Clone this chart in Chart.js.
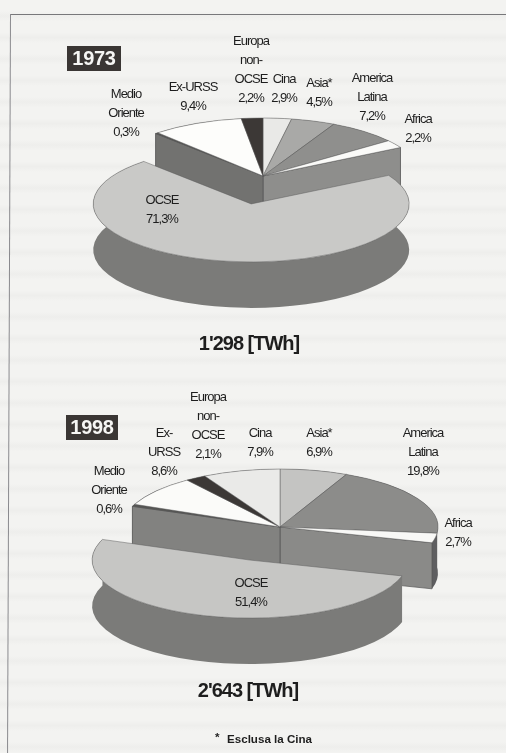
<!DOCTYPE html>
<html>
<head>
<meta charset="utf-8">
<title>Produzione elettrica 1973 / 1998</title>
<script src="https://cdn.jsdelivr.net/npm/chart.js@4/dist/chart.umd.min.js"></script>
<style>
  html, body { margin: 0; padding: 0; width: 506px; height: 753px; overflow: hidden; background: #f2f2f0; }
  /* fondo di pagina scansionata: righe appena visibili */
  body { background-image: repeating-linear-gradient(180deg, #f3f3f1 0, #f3f3f1 11px, #eeeeec 16px, #f3f3f1 21.5px); }
  canvas { position: absolute; left: 0; top: 0; }
  #frameTop { position: absolute; left: 10px; top: 14px; width: 496px; height: 1px; background: #77777a; }
  #frameLeft { position: absolute; left: 10px; top: 14px; width: 1px; height: 739px; background: #8a8a8e; transform-origin: top left; transform: rotate(0.23deg); }
</style>
</head>
<body>
<div id="frameTop"></div>
<div id="frameLeft"></div>
<canvas id="pie1973" width="506" height="753"></canvas>
<canvas id="pie1998" width="506" height="753"></canvas>
<script>
// valori (%)
const cats1973 = ['Cina', 'Asia*', 'America\nLatina', 'Africa', 'OCSE', 'Medio\nOriente', 'Ex-URSS', 'Europa\nnon-\nOCSE'];
const vals1973 = [2.9, 4.5, 7.2, 2.2, 71.3, 0.3, 9.4, 2.2];
const colors1973 = ['#e9e9e7', '#a9a9a7', '#8f8f8d', '#fafaf8', '#c9c9c7', '#555553', '#fdfdfb', '#3c3836'];
const labelAt1973 = [[284, 79], [319, 83], [372, 78], [418, 119], [162, 200], [126, 94], [193, 87], [251, 41]];

const cats1998 = ['Asia*', 'America\nLatina', 'Africa', 'OCSE', 'Medio\nOriente', 'Ex-\nURSS', 'Europa\nnon-\nOCSE', 'Cina'];
const vals1998 = [6.9, 19.8, 2.7, 51.4, 0.6, 8.6, 2.1, 7.9];
const colors1998 = ['#c4c4c2', '#8c8c8a', '#f8f8f6', '#c6c6c4', '#555553', '#fbfbf9', '#3c3836', '#eaeae8'];
const labelAt1998 = [[319, 433], [423, 433], [458, 523], [251, 583], [109, 471], [164, 433], [208, 397], [260, 433]];

const TILT = 0.367;
const DEPTH = 46;
const RADIUS = 158;
const TEXT_COLOR = '#1e1e1e';

function drawLabels(ctx, cats, vals, labelAt) {
  ctx.font = "13px 'Liberation Sans'";
  ctx.letterSpacing = '-1px';
  ctx.fillStyle = TEXT_COLOR;
  ctx.textAlign = 'center';
  ctx.textBaseline = 'middle';
  cats.forEach((c, i) => {
    const lines = c.split('\n').concat(vals[i].toFixed(1).replace('.', ',') + '%');
    lines.forEach((l, n) => ctx.fillText(l, labelAt[i][0], labelAt[i][1] + n * 19.3));
  });
}

function drawWall(ctx, cx, cy, r, angle, color) {
  const px = cx + Math.cos(angle) * r;
  const py = cy + Math.sin(angle) * r * TILT;
  ctx.beginPath();
  ctx.moveTo(cx, cy);
  ctx.lineTo(px, py);
  ctx.lineTo(px, py + DEPTH);
  ctx.lineTo(cx, cy + DEPTH);
  ctx.closePath();
  ctx.fillStyle = color;
  ctx.fill();
  ctx.lineWidth = 0.7;
  ctx.strokeStyle = '#555';
  ctx.stroke();
}

function drawRim(ctx, cx, cy, a, color) {
  const rx = a.outerRadius, ry = a.outerRadius * TILT;
  ctx.beginPath();
  ctx.ellipse(cx, cy, rx, ry, 0, a.startAngle, a.endAngle);
  ctx.ellipse(cx, cy + DEPTH, rx, ry, 0, a.endAngle, a.startAngle, true);
  ctx.closePath();
  ctx.fillStyle = color;
  ctx.fill();
}

function makePie(id, cfg) {
  const cutIndex = cfg.cats.indexOf('OCSE');
  let cx = 0, cy = 0;

  const tiltPlugin = {
    id: 'tilt',
    afterDatasetUpdate(chart) {
      // l'opzione offset di Chart.js allarga gli spicchi > 180 gradi, quindi sposto l'arco a mano
      const arcs = chart.getDatasetMeta(0).data;
      const cut = arcs[cutIndex];
      cx = arcs[0].x;
      cy = arcs[0].y;
      const mid = (cut.startAngle + cut.endAngle) / 2;
      cut.x = cx + Math.cos(mid) * cfg.explode;
      cut.y = cy + Math.sin(mid) * cfg.explode;
    },
    beforeDatasetsDraw(chart) {
      const ctx = chart.ctx;
      const arcs = chart.getDatasetMeta(0).data;
      const cut = arcs[cutIndex];

      ctx.save();
      arcs.filter(a => a !== cut).forEach(a => drawRim(ctx, cx, cy, a, cfg.rim));
      drawWall(ctx, cx, cy, cut.outerRadius, cut.startAngle, cfg.wallRight);
      drawWall(ctx, cx, cy, cut.outerRadius, cut.endAngle, cfg.wallLeft);
      drawRim(ctx, cut.x, cy + (cut.y - cy) * TILT, cut, cfg.rimCut);
      ctx.restore();

      // schiaccia la torta sull'asse y
      ctx.save();
      ctx.translate(cx, cy);
      ctx.scale(1, TILT);
      ctx.translate(-cx, -cy);
    },
    afterDatasetsDraw(chart) {
      const ctx = chart.ctx;
      ctx.restore();

      ctx.save();
      drawLabels(ctx, cfg.cats, cfg.vals, cfg.labelAt);

      ctx.font = "bold 20px 'Liberation Sans'";
      ctx.letterSpacing = '-1px';
      ctx.fillStyle = TEXT_COLOR;
      ctx.fillText(cfg.total, cfg.totalAt[0], cfg.totalAt[1]);

      ctx.fillStyle = '#3a3634';
      ctx.fillRect(cfg.yearBox[0], cfg.yearBox[1], cfg.yearBox[2], cfg.yearBox[3]);
      ctx.fillStyle = '#f6f6f4';
      ctx.letterSpacing = '-0.3px';
      ctx.fillText(cfg.year, cfg.yearBox[0] + cfg.yearBox[2] / 2, cfg.yearBox[1] + cfg.yearBox[3] / 2 + 1);

      if (cfg.note) {
        ctx.font = "bold 11.6px 'Liberation Sans'";
        ctx.letterSpacing = '0px';
        ctx.textAlign = 'left';
        ctx.fillStyle = TEXT_COLOR;
        ctx.fillText('*', 215, 738);
        ctx.fillText(cfg.note, 227, 740);
      }
      ctx.restore();
    }
  };

  return new Chart(document.getElementById(id), {
    type: 'pie',
    data: {
      labels: cfg.cats.map(c => c.replace(/\n/g, ' ')),
      datasets: [{
        data: cfg.vals,
        backgroundColor: cfg.colors,
        borderColor: '#5a5a5a',
        borderWidth: 0.7,
        clip: false
      }]
    },
    options: {
      responsive: false,
      animation: false,
      radius: RADIUS,
      layout: { padding: cfg.padding },
      plugins: { legend: { display: false }, tooltip: { enabled: false } }
    },
    plugins: [tiltPlugin]
  });
}

makePie('pie1973', {
  cats: cats1973, vals: vals1973, colors: colors1973, labelAt: labelAt1973,
  explode: 77, padding: { left: 20, bottom: 401 },
  rim: '#6c6c6a', rimCut: '#7b7b79', wallLeft: '#727270', wallRight: '#8e8e8c',
  year: '1973', yearBox: [67, 46, 54, 25],
  total: "1'298 [TWh]", totalAt: [249, 344]
});

makePie('pie1998', {
  cats: cats1998, vals: vals1998, colors: colors1998, labelAt: labelAt1998,
  explode: 95, padding: { left: 54, top: 301 },
  rim: '#5e5e60', rimCut: '#7b7b79', wallLeft: '#828280', wallRight: '#8a8a88',
  year: '1998', yearBox: [66, 415, 52, 25],
  total: "2'643 [TWh]", totalAt: [248, 691],
  note: 'Esclusa la Cina'
});
</script>
</body>
</html>
